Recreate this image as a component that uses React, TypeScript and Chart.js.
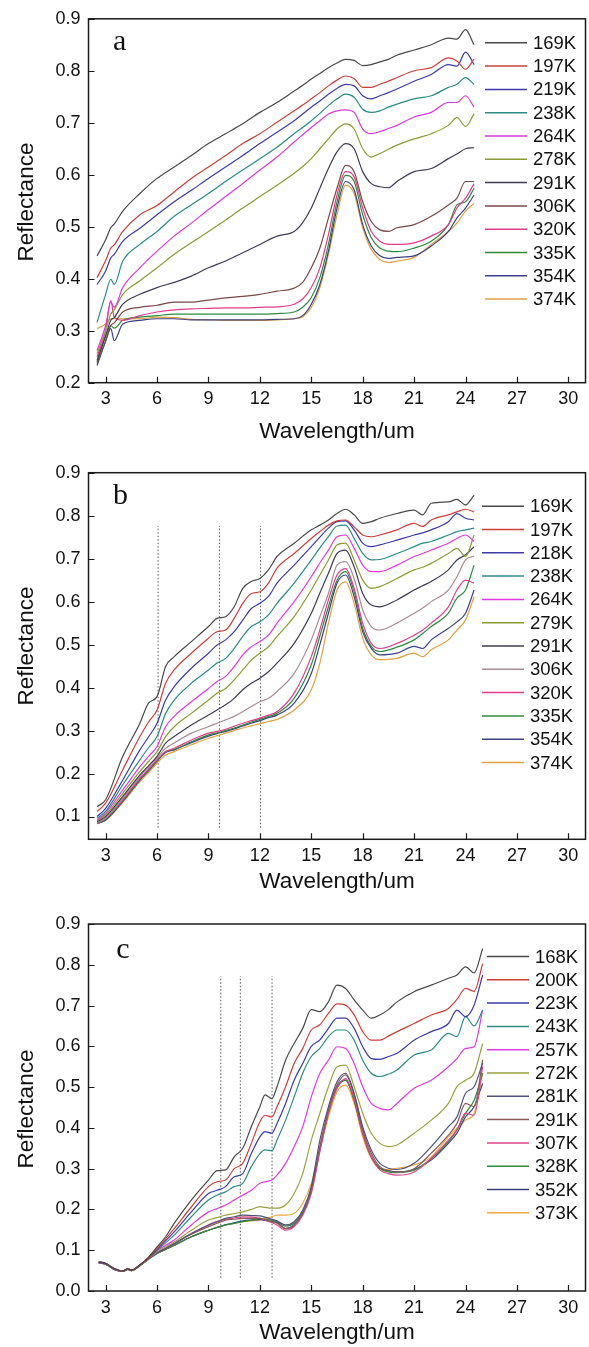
import React, { useEffect, useRef } from "react";
import { Chart, registerables } from "chart.js";
Chart.register(...registerables);

// ---------- Panel a ----------
const WL_A = [2.5, 3, 3.3, 3.5, 4, 5, 6, 7, 8, 9, 10, 11, 12, 13, 14, 14.5, 15, 15.5, 16, 16.5, 17, 17.5, 18, 18.5, 19, 19.5, 20, 21, 22, 23, 23.5, 24, 24.5];
const TEMPS_A = ["169K", "197K", "219K", "238K", "264K", "278K", "291K", "306K", "320K", "335K", "354K", "374K"];
const A_169K = [.444,.475,.498,.505,.53,.564,.593,.615,.637,.66,.679,.698,.72,.739,.761,.772,.784,.795,.806,.815,.822,.82,.81,.812,.817,.822,.83,.84,.85,.863,.861,.879,.85];
const A_197K = [.402,.435,.459,.465,.491,.523,.541,.567,.593,.615,.637,.66,.679,.701,.723,.734,.746,.758,.771,.782,.79,.785,.768,.768,.774,.78,.787,.8,.806,.825,.819,.803,.823];
const A_219K = [.389,.415,.44,.447,.472,.497,.523,.548,.57,.593,.615,.637,.66,.682,.704,.717,.73,.742,.755,.766,.774,.771,.752,.746,.752,.758,.765,.78,.793,.812,.809,.836,.812];
const A_238K = [.316,.37,.399,.389,.434,.466,.491,.52,.542,.564,.587,.609,.631,.653,.679,.691,.704,.718,.733,.746,.755,.749,.726,.72,.723,.73,.736,.746,.752,.768,.774,.787,.774];
const A_264K = [.262,.31,.355,.345,.383,.421,.453,.482,.507,.533,.558,.583,.609,.634,.663,.677,.691,.704,.717,.723,.725,.72,.688,.679,.683,.689,.695,.711,.72,.739,.739,.752,.73];
const A_278K = [.256,.3,.332,.34,.37,.396,.421,.447,.469,.491,.513,.536,.558,.58,.603,.616,.631,.65,.669,.688,.698,.688,.65,.634,.641,.649,.657,.669,.679,.695,.71,.693,.717];
const A_291K = [.243,.29,.32,.325,.351,.37,.383,.393,.405,.421,.434,.45,.466,.482,.491,.508,.536,.574,.612,.644,.66,.65,.606,.583,.577,.575,.587,.606,.612,.631,.64,.65,.652];
const A_306K = [.237,.28,.31,.315,.336,.345,.349,.355,.355,.359,.363,.366,.37,.376,.382,.393,.421,.459,.517,.574,.618,.606,.548,.51,.494,.491,.498,.504,.52,.542,.555,.587,.587];
const A_320K = [.25,.3,.358,.326,.32,.329,.336,.34,.342,.343,.344,.344,.345,.346,.351,.361,.383,.421,.485,.561,.606,.596,.536,.491,.472,.466,.466,.469,.482,.504,.536,.555,.583];
const A_335K = [.24,.29,.31,.305,.32,.326,.329,.332,.332,.332,.332,.332,.332,.333,.336,.345,.364,.402,.466,.548,.599,.587,.523,.479,.459,.453,.452,.459,.472,.504,.542,.548,.574];
const A_354K = [.233,.28,.304,.281,.313,.32,.323,.323,.321,.321,.321,.321,.321,.322,.323,.329,.351,.389,.453,.536,.587,.571,.504,.463,.444,.439,.441,.444,.463,.491,.517,.536,.561];
const A_374K = [.304,.313,.323,.323,.323,.323,.326,.325,.322,.321,.32,.32,.32,.321,.323,.327,.345,.383,.447,.523,.58,.564,.498,.456,.437,.431,.434,.441,.466,.491,.507,.53,.545];
const COLORS_A = ["#484848", "#c9403a", "#3a3aa8", "#2b8a84", "#d83ad8", "#8c9a32", "#3c3c54", "#7a4848", "#e03c8c", "#2e8a3e", "#3c4082", "#e0a040"];

// ---------- Panel b ----------
const WL_B = [2.5, 3, 4, 5, 5.5, 6, 6.5, 7, 8, 9, 9.5, 10, 10.5, 11, 11.5, 12, 12.5, 13, 14, 15, 15.5, 16, 16.5, 17, 17.5, 18, 18.5, 19, 20, 21, 21.5, 22, 23, 23.5, 24, 24.5];
const TEMPS_B = ["169K", "197K", "218K", "238K", "264K", "279K", "291K", "306K", "320K", "335K", "354K", "374K"];
const B_169K = [.123,.139,.24,.317,.364,.379,.449,.472,.507,.542,.561,.565,.588,.631,.647,.654,.674,.705,.736,.767,.778,.79,.805,.815,.802,.782,.786,.794,.805,.813,.802,.829,.832,.838,.825,.848];
const B_197K = [.112,.131,.209,.286,.32,.348,.41,.441,.48,.515,.53,.534,.561,.596,.619,.623,.643,.678,.712,.747,.763,.778,.788,.79,.774,.755,.751,.755,.767,.782,.775,.79,.802,.809,.815,.809];
const B_218K = [.1,.119,.185,.255,.285,.317,.371,.402,.445,.48,.499,.511,.53,.557,.584,.596,.612,.643,.685,.728,.75,.771,.786,.788,.767,.736,.728,.732,.743,.755,.76,.767,.786,.805,.794,.79];
const B_238K = [.096,.112,.174,.232,.26,.286,.34,.371,.41,.441,.457,.468,.491,.519,.542,.553,.569,.596,.643,.697,.725,.751,.776,.778,.747,.712,.697,.698,.712,.728,.736,.74,.755,.763,.767,.771];
const B_264K = [.092,.108,.162,.216,.24,.263,.309,.333,.367,.398,.414,.426,.449,.476,.495,.507,.522,.55,.6,.658,.69,.72,.751,.755,.724,.685,.67,.67,.685,.705,.712,.72,.736,.747,.755,.74];
const B_279K = [.091,.104,.154,.205,.228,.251,.286,.309,.34,.371,.387,.398,.418,.441,.464,.48,.495,.519,.565,.627,.662,.697,.732,.736,.697,.65,.631,.635,.654,.674,.68,.689,.712,.724,.705,.755];
const B_291K = [.088,.1,.147,.197,.218,.24,.271,.286,.313,.336,.348,.36,.375,.395,.41,.422,.437,.457,.503,.573,.62,.666,.712,.72,.681,.619,.592,.588,.604,.627,.637,.647,.674,.697,.709,.728];
const B_306K = [.086,.096,.143,.193,.215,.236,.259,.271,.294,.309,.317,.325,.333,.344,.356,.367,.375,.391,.433,.511,.565,.619,.685,.693,.654,.581,.542,.534,.55,.573,.585,.6,.627,.658,.697,.706];
const B_320K = [.084,.096,.139,.189,.21,.232,.251,.259,.278,.294,.298,.303,.31,.317,.323,.329,.336,.344,.387,.472,.534,.604,.662,.677,.631,.55,.503,.491,.503,.522,.534,.55,.588,.627,.65,.643];
const B_335K = [.084,.094,.137,.187,.208,.23,.251,.256,.274,.29,.295,.3,.306,.313,.32,.326,.333,.34,.375,.453,.52,.588,.65,.67,.623,.538,.496,.484,.494,.511,.526,.542,.573,.608,.627,.685];
const B_354K = [.083,.092,.135,.185,.206,.229,.249,.255,.272,.287,.293,.298,.304,.311,.317,.323,.33,.336,.364,.433,.5,.573,.643,.662,.612,.53,.491,.476,.48,.496,.491,.511,.538,.553,.573,.627];
const B_374K = [.084,.091,.133,.181,.202,.224,.243,.251,.267,.282,.288,.294,.3,.306,.311,.316,.321,.326,.348,.395,.457,.55,.627,.646,.596,.515,.476,.465,.468,.48,.472,.488,.511,.534,.557,.612];
const COLORS_B = ["#484848", "#c9403a", "#3a3aa8", "#2b8a84", "#e03ae0", "#8c9a32", "#3c3c50", "#a88a92", "#e03c8c", "#2e8a3e", "#3c4082", "#e0a040"];
const DOTTED_B_X = [6.06, 9.64, 12.04];
const DOTTED_B_Y = [0.074, 0.776];

// ---------- Panel c ----------
const WL_C = [2.6, 3, 3.5, 4, 4.3, 4.5, 5, 5.5, 6, 6.5, 7, 8, 9, 9.5, 10, 10.5, 11, 11.5, 12, 12.3, 12.7, 13, 13.5, 14, 14.5, 15, 15.5, 16, 16.5, 17, 17.5, 18, 18.5, 19, 19.5, 20, 21, 22, 23, 23.5, 24, 24.5, 25];
const TEMPS_C = ["168K", "200K", "223K", "243K", "257K", "272K", "281K", "291K", "307K", "328K", "352K", "373K"];
const C_168K = [.072,.068,.055,.049,.055,.051,.064,.083,.108,.133,.166,.223,.272,.295,.297,.329,.35,.403,.452,.481,.472,.501,.566,.607,.644,.69,.685,.709,.75,.742,.714,.689,.669,.677,.69,.709,.734,.75,.767,.775,.795,.78,.84];
const C_200K = [.072,.068,.055,.049,.055,.051,.064,.081,.104,.128,.153,.206,.256,.268,.272,.3,.313,.362,.415,.431,.427,.452,.501,.558,.595,.64,.653,.681,.704,.701,.677,.636,.615,.615,.625,.636,.656,.677,.693,.715,.742,.735,.803];
const C_223K = [.07,.067,.054,.049,.054,.051,.064,.08,.102,.123,.145,.194,.239,.247,.256,.28,.288,.337,.378,.391,.387,.411,.46,.517,.558,.6,.616,.644,.669,.669,.644,.599,.57,.568,.575,.583,.615,.636,.656,.689,.673,.701,.775];
const C_243K = [.07,.067,.054,.049,.054,.051,.064,.08,.1,.118,.137,.182,.223,.235,.243,.256,.264,.305,.337,.346,.344,.37,.419,.476,.534,.575,.595,.624,.64,.64,.615,.566,.534,.526,.532,.542,.579,.591,.632,.624,.673,.65,.689];
const C_257K = [.07,.067,.054,.049,.054,.051,.064,.08,.099,.112,.125,.162,.194,.202,.211,.223,.235,.247,.264,.268,.272,.284,.313,.354,.403,.476,.534,.566,.599,.595,.558,.501,.46,.448,.444,.46,.497,.517,.55,.57,.595,.599,.689];
const C_272K = [.07,.066,.054,.048,.054,.05,.063,.079,.096,.108,.12,.149,.174,.18,.186,.19,.194,.2,.207,.205,.203,.203,.211,.239,.288,.37,.436,.501,.55,.554,.501,.436,.387,.362,.354,.358,.387,.419,.46,.501,.517,.534,.607];
const C_281K = [.07,.066,.054,.048,.054,.05,.063,.079,.094,.105,.116,.141,.162,.17,.178,.182,.186,.185,.184,.181,.176,.172,.162,.17,.198,.256,.37,.452,.513,.534,.485,.403,.346,.313,.301,.298,.313,.354,.403,.427,.485,.501,.559];
const C_291K = [.07,.066,.054,.048,.054,.05,.063,.079,.094,.105,.116,.139,.158,.166,.174,.176,.178,.178,.178,.175,.17,.166,.153,.162,.19,.247,.354,.444,.505,.53,.481,.395,.338,.305,.295,.292,.3,.338,.382,.411,.46,.452,.567];
const C_307K = [.069,.066,.053,.048,.053,.05,.063,.079,.094,.105,.116,.141,.162,.17,.176,.179,.182,.181,.178,.174,.168,.162,.149,.158,.186,.239,.342,.436,.497,.521,.472,.387,.329,.297,.288,.284,.292,.325,.37,.395,.436,.431,.55];
const C_328K = [.069,.066,.053,.048,.053,.05,.062,.078,.092,.102,.112,.133,.149,.156,.162,.166,.17,.174,.178,.176,.173,.17,.159,.166,.194,.243,.346,.436,.497,.517,.468,.387,.329,.301,.292,.29,.296,.325,.366,.395,.436,.468,.534];
const C_352K = [.069,.066,.053,.048,.053,.05,.062,.078,.092,.102,.112,.133,.149,.156,.162,.167,.172,.174,.175,.173,.17,.168,.153,.162,.19,.246,.35,.44,.501,.517,.468,.387,.329,.301,.295,.292,.298,.321,.362,.387,.427,.452,.509];
const C_373K = [.069,.066,.053,.048,.053,.05,.062,.078,.092,.102,.112,.133,.149,.156,.162,.166,.17,.172,.174,.178,.182,.186,.186,.19,.215,.264,.346,.427,.489,.505,.46,.378,.325,.301,.298,.301,.309,.329,.378,.399,.419,.436,.534];
const COLORS_C = ["#484848", "#c9403a", "#3a3aa8", "#2b8a84", "#e03ae0", "#9aa040", "#50507a", "#8a5a5a", "#e0448a", "#2e8a3e", "#3c4082", "#f0a840"];
const DOTTED_C_X = [9.72, 10.86, 12.71];
const DOTTED_C_Y = [0.0325, 0.772];

// ---------- axes ----------
const X_MIN = 2;
const X_MAX = 31;
const X_TICKS = [3, 6, 9, 12, 15, 18, 21, 24, 27, 30];
const Y_TICKS_A = [0.2, 0.3, 0.4, 0.5, 0.6, 0.7, 0.8, 0.9];
const Y_TICKS_B = [0.1, 0.2, 0.3, 0.4, 0.5, 0.6, 0.7, 0.8, 0.9];
const Y_TICKS_C = [0.0, 0.1, 0.2, 0.3, 0.4, 0.5, 0.6, 0.7, 0.8, 0.9];
const X_TITLE = "Wavelength/um";
const Y_TITLE = "Reflectance";

const SANS = '"Liberation Sans", Arial, Helvetica, sans-serif';
const SERIF = '"Liberation Serif", "Times New Roman", serif';

type PanelCfg = {
  letter: string;
  wl: number[];
  series: number[][];
  temps: string[];
  colors: string[];
  yMin: number;
  yMax: number;
  yTicks: number[];
  dottedX: number[];
  dottedY: number[];
  canvasTop: number;
  canvasH: number;
  areaTop: number;
  areaBottom: number;
  legendX: number;
  legendY: number;
  letterPos: [number, number];
  xTitleY: number;
  yTitleY: number;
};

const PANELS: PanelCfg[] = [
  {
    letter: "a", wl: WL_A,
    series: [A_169K, A_197K, A_219K, A_238K, A_264K, A_278K, A_291K, A_306K, A_320K, A_335K, A_354K, A_374K],
    temps: TEMPS_A, colors: COLORS_A, yMin: 0.2, yMax: 0.9, yTicks: Y_TICKS_A,
    dottedX: [], dottedY: [],
    canvasTop: 0, canvasH: 450, areaTop: 15.7, areaBottom: 382.7,
    legendX: 485, legendY: 42.8, letterPos: [119.7, 41.7], xTitleY: 431.7, yTitleY: 202,
  },
  {
    letter: "b", wl: WL_B,
    series: [B_169K, B_197K, B_218K, B_238K, B_264K, B_279K, B_291K, B_306K, B_320K, B_335K, B_354K, B_374K],
    temps: TEMPS_B, colors: COLORS_B, yMin: 0.047, yMax: 0.9, yTicks: Y_TICKS_B,
    dottedX: DOTTED_B_X, dottedY: DOTTED_B_Y,
    canvasTop: 450, canvasH: 450, areaTop: 22.7, areaBottom: 389.3,
    legendX: 482, legendY: 56.2, letterPos: [120.5, 46], xTitleY: 431.7, yTitleY: 196,
  },
  {
    letter: "c", wl: WL_C,
    series: [C_168K, C_200K, C_223K, C_243K, C_257K, C_272K, C_281K, C_291K, C_307K, C_328K, C_352K, C_373K],
    temps: TEMPS_C, colors: COLORS_C, yMin: 0, yMax: 0.9, yTicks: Y_TICKS_C,
    dottedX: DOTTED_C_X, dottedY: DOTTED_C_Y,
    canvasTop: 900, canvasH: 447, areaTop: 24, areaBottom: 391,
    legendX: 487, legendY: 56.5, letterPos: [123, 50], xTitleY: 433, yTitleY: 209,
  },
];

const AREA_LEFT = 88.5;
const AREA_RIGHT = 585.5;
const LEGEND_STEP = 23.3;

function makeConfig(p: PanelCfg): any {
  const datasets: any[] = p.series.map((vals, i) => ({
    label: p.temps[i],
    data: vals.map((y, j) => ({ x: p.wl[j], y })),
    borderColor: p.colors[i],
    backgroundColor: p.colors[i],
    borderWidth: 1.2,
    pointRadius: 0,
    fill: false,
    cubicInterpolationMode: "monotone",
  }));
  p.dottedX.forEach((x) => {
    datasets.push({
      label: "",
      data: [{ x, y: p.dottedY[0] }, { x, y: p.dottedY[1] }],
      borderColor: "#555555",
      borderWidth: 1,
      borderDash: [1.5, 2],
      pointRadius: 0,
      fill: false,
    });
  });

  const decor = {
    id: "decor_" + p.letter,
    afterDraw(chart: any) {
      const { ctx, chartArea: a, scales } = chart;
      ctx.save();
      ctx.strokeStyle = "#1a1a1a";
      ctx.lineWidth = 1.5;
      ctx.strokeRect(a.left, a.top, a.right - a.left, a.bottom - a.top);
      ctx.lineWidth = 1.2;
      ctx.beginPath();
      X_TICKS.forEach((v) => {
        const px = Math.round(scales.x.getPixelForValue(v)) + 0.5;
        ctx.moveTo(px, a.bottom);
        ctx.lineTo(px, a.bottom - 6);
      });
      p.yTicks.forEach((v) => {
        const py = Math.round(scales.y.getPixelForValue(v)) + 0.5;
        ctx.moveTo(a.left, py);
        ctx.lineTo(a.left + 6, py);
      });
      ctx.stroke();

      // legend
      ctx.font = `18.5px ${SANS}`;
      ctx.textAlign = "left";
      ctx.textBaseline = "middle";
      p.temps.forEach((t, i) => {
        const y = p.legendY + i * LEGEND_STEP;
        ctx.strokeStyle = p.colors[i];
        ctx.lineWidth = 1.5;
        ctx.beginPath();
        ctx.moveTo(p.legendX, y);
        ctx.lineTo(p.legendX + 42, y);
        ctx.stroke();
        ctx.fillStyle = "#111111";
        ctx.fillText(t, p.legendX + 48, y + 1);
      });

      // panel letter
      ctx.font = `30px ${SERIF}`;
      ctx.textAlign = "center";
      ctx.textBaseline = "middle";
      ctx.fillStyle = "#111111";
      ctx.fillText(p.letter, p.letterPos[0], p.letterPos[1]);

      // axis titles
      ctx.font = `22.5px ${SANS}`;
      ctx.fillText(X_TITLE, (a.left + a.right) / 2, p.xTitleY);
      ctx.save();
      ctx.translate(26.5, p.yTitleY);
      ctx.rotate(-Math.PI / 2);
      ctx.fillText(Y_TITLE, 0, 0);
      ctx.restore();
      ctx.restore();
    },
  };

  return {
    type: "line",
    data: { datasets },
    plugins: [decor],
    options: {
      responsive: false,
      animation: false,
      devicePixelRatio: 1,
      layout: { padding: { left: 0, right: 589 - AREA_RIGHT, top: p.areaTop, bottom: 0 } },
      plugins: { legend: { display: false }, tooltip: { enabled: false }, title: { display: false } },
      scales: {
        x: {
          type: "linear",
          min: X_MIN,
          max: X_MAX,
          grid: { display: false, drawTicks: false },
          border: { display: false },
          afterBuildTicks: (s: any) => { s.ticks = X_TICKS.map((v) => ({ value: v })); },
          afterFit: (s: any) => { s.height = p.canvasH - p.areaBottom; },
          ticks: {
            autoSkip: false,
            maxRotation: 0,
            padding: 6,
            color: "#111111",
            font: { family: SANS, size: 18 },
            callback: (v: any) => String(v),
          },
        },
        y: {
          type: "linear",
          min: p.yMin,
          max: p.yMax,
          grid: { display: false, drawTicks: false },
          border: { display: false },
          afterBuildTicks: (s: any) => { s.ticks = p.yTicks.map((v) => ({ value: v })); },
          afterFit: (s: any) => { s.width = AREA_LEFT; },
          ticks: {
            autoSkip: false,
            padding: 8,
            color: "#111111",
            font: { family: SANS, size: 18 },
            callback: (v: any) => Number(v).toFixed(1),
          },
        },
      },
    },
  };
}

function PanelChart({ p }: { p: PanelCfg }) {
  const ref = useRef<HTMLCanvasElement>(null);
  useEffect(() => {
    if (!ref.current) return;
    const chart = new Chart(ref.current, makeConfig(p));
    return () => chart.destroy();
  }, [p]);
  return (
    <canvas
      ref={ref}
      width={589}
      height={p.canvasH}
      style={{ position: "absolute", left: 0, top: p.canvasTop, width: 589, height: p.canvasH }}
    />
  );
}

export default function App() {
  return (
    <div style={{ position: "absolute", left: 0, top: 0, width: 589, height: 1347, background: "#ffffff", overflow: "hidden" }}>
      {PANELS.map((p) => (
        <PanelChart key={p.letter} p={p} />
      ))}
    </div>
  );
}
